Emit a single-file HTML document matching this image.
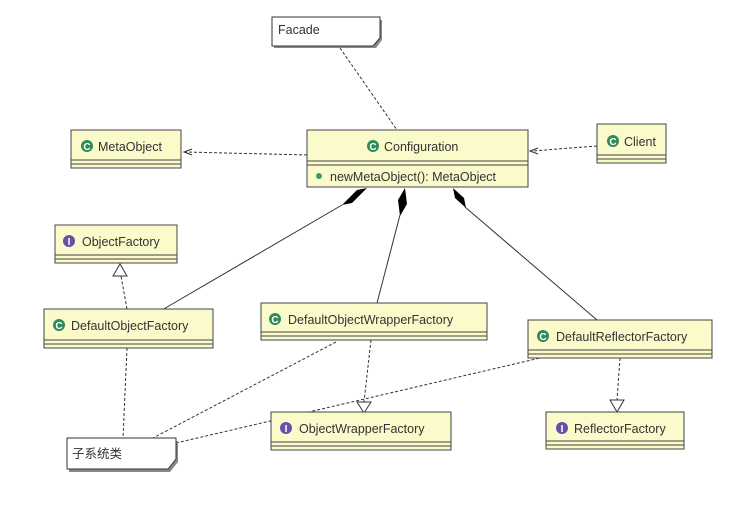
<!DOCTYPE html>
<html><head><meta charset="utf-8"><style>
html,body{margin:0;padding:0;background:#fff;}
svg text{font-family:"Liberation Sans","Noto Sans CJK SC",sans-serif;font-size:12.5px;fill:#333;}
</style></head><body>
<svg width="747" height="500" viewBox="0 0 747 500" xmlns="http://www.w3.org/2000/svg">
<defs>
<g id="gi"><circle r="6" fill="#2f8a5a"/><text x="0" y="4" text-anchor="middle" style="font-size:10px;font-weight:bold;fill:#fff">C</text></g>
<g id="ii"><circle r="6" fill="#6650a8"/><text x="0" y="4" text-anchor="middle" style="font-size:10px;font-weight:bold;fill:#fff">I</text></g>
</defs>
<g stroke="#333" stroke-width="1" fill="none">
<line x1="340" y1="48" x2="397" y2="130" stroke-dasharray="3,2"/>
<line x1="307" y1="155" x2="186" y2="152" stroke-dasharray="3,2"/>
<polyline points="192,149 184,152 192,155"/>
<line x1="597" y1="146" x2="532" y2="151" stroke-dasharray="3,2"/>
<polyline points="538,148 530,151 538,154"/>
<line x1="342" y1="205" x2="162" y2="310"/>
<line x1="400" y1="215" x2="377" y2="303"/>
<line x1="465" y1="207" x2="597" y2="320"/>
<line x1="127" y1="348" x2="123" y2="438" stroke-dasharray="3,2"/>
<line x1="127" y1="309" x2="121" y2="276" stroke-dasharray="3,2"/>
<line x1="336" y1="342" x2="153" y2="438" stroke-dasharray="3,2"/>
<line x1="371" y1="340" x2="364" y2="402" stroke-dasharray="3,2"/>
<line x1="176" y1="443" x2="540" y2="358" stroke-dasharray="3,2"/>
<line x1="620" y1="358" x2="617" y2="400" stroke-dasharray="3,2"/>
</g>
<g fill="#fff" stroke="#333">
<polygon points="120,264 113,276 127,276"/>
<polygon points="357,402 371,402 364,413"/>
<polygon points="610,400 624,400 617,412"/>
</g>
<g fill="#000">
<polygon points="367,188 357,190 342,205 352,203"/>
<polygon points="405,188 398,200 400,216 407,204"/>
<polygon points="453,188 455,198 466,208 464,198"/>
</g>
<g stroke="#333" fill="#fff">
<polygon points="274,20 382,20 382,40 376,48 274,48" fill="#888" stroke="none"/>
<polygon points="272,17 380,17 380,38 373,46 272,46"/>
<polygon points="69,441 178,441 178,462 170,472 69,472" fill="#888" stroke="none"/>
<polygon points="67,438 176,438 176,459 168,469 67,469"/>
</g>
<text x="278" y="34">Facade</text>
<text x="72" y="458">子系统类</text>
<g fill="#fafacb" stroke="#444">
<rect x="307" y="130" width="221" height="57"/>
<rect x="71" y="130" width="110" height="38"/>
<rect x="597" y="124" width="69" height="39"/>
<rect x="55" y="225" width="122" height="38"/>
<rect x="44" y="309" width="169" height="39"/>
<rect x="261" y="303" width="226" height="37"/>
<rect x="528" y="320" width="184" height="38"/>
<rect x="271" y="412" width="180" height="38"/>
<rect x="546" y="412" width="138" height="37"/>
</g>
<g stroke="#444">
<line x1="307" y1="161" x2="528" y2="161"/><line x1="307" y1="165" x2="528" y2="165"/>
<line x1="71" y1="160" x2="181" y2="160"/><line x1="71" y1="164" x2="181" y2="164"/>
<line x1="597" y1="155" x2="666" y2="155"/><line x1="597" y1="159" x2="666" y2="159"/>
<line x1="55" y1="255" x2="177" y2="255"/><line x1="55" y1="259" x2="177" y2="259"/>
<line x1="44" y1="340" x2="213" y2="340"/><line x1="44" y1="344" x2="213" y2="344"/>
<line x1="261" y1="332" x2="487" y2="332"/><line x1="261" y1="336" x2="487" y2="336"/>
<line x1="528" y1="350" x2="712" y2="350"/><line x1="528" y1="354" x2="712" y2="354"/>
<line x1="271" y1="442" x2="451" y2="442"/><line x1="271" y1="446" x2="451" y2="446"/>
<line x1="546" y1="441" x2="684" y2="441"/><line x1="546" y1="445" x2="684" y2="445"/>
</g>
<use href="#gi" x="373" y="146"/><text x="384" y="151">Configuration</text>
<circle cx="319" cy="176" r="3" fill="#3a9a6a"/><text x="330" y="181">newMetaObject(): MetaObject</text>
<use href="#gi" x="87" y="146"/><text x="98" y="151">MetaObject</text>
<use href="#gi" x="613" y="141"/><text x="624" y="146">Client</text>
<use href="#ii" x="69" y="241"/><text x="82" y="246">ObjectFactory</text>
<use href="#gi" x="59" y="325"/><text x="71" y="330">DefaultObjectFactory</text>
<use href="#gi" x="275" y="319"/><text x="288" y="324">DefaultObjectWrapperFactory</text>
<use href="#gi" x="543" y="336"/><text x="556" y="341">DefaultReflectorFactory</text>
<use href="#ii" x="286" y="428"/><text x="299" y="433">ObjectWrapperFactory</text>
<use href="#ii" x="562" y="428"/><text x="574" y="433">ReflectorFactory</text>
</svg>
</body></html>
